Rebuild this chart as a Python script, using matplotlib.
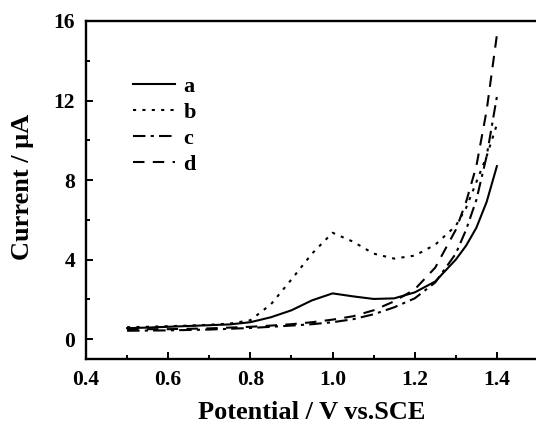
import matplotlib
matplotlib.use("Agg")
import matplotlib.pyplot as plt
from matplotlib.ticker import MultipleLocator

plt.rcParams['font.family'] = ['Liberation Serif', 'DejaVu Serif']
plt.rcParams['font.weight'] = 'bold'

# potential (V vs. SCE)
potential = [0.5, 0.55, 0.6, 0.65, 0.7, 0.75, 0.8, 0.85, 0.9, 0.95, 1.0,
             1.05, 1.1, 1.15, 1.2, 1.25, 1.3, 1.325, 1.35, 1.375, 1.4]

# current (uA) for each curve
cur_a = [0.55, 0.58, 0.62, 0.66, 0.70, 0.74, 0.85, 1.10, 1.45, 1.95, 2.30,
         2.15, 2.02, 2.05, 2.35, 2.90, 4.00, 4.70, 5.60, 6.90, 8.70]
cur_b = [0.60, 0.62, 0.65, 0.68, 0.72, 0.78, 0.95, 1.75, 3.00, 4.30, 5.35,
         4.90, 4.30, 4.05, 4.20, 4.75, 5.70, 6.60, 7.90, 9.20, 10.80]
cur_c = [0.42, 0.43, 0.44, 0.46, 0.48, 0.52, 0.56, 0.62, 0.68, 0.75, 0.85,
         1.00, 1.25, 1.60, 2.05, 2.85, 4.30, 5.50, 7.00, 9.20, 12.20]
cur_d = [0.50, 0.50, 0.50, 0.52, 0.54, 0.58, 0.62, 0.68, 0.75, 0.85, 0.98,
         1.15, 1.45, 1.90, 2.50, 3.60, 5.50, 6.90, 8.70, 11.50, 15.30]

labels = ['a', 'b', 'c', 'd']

fig = plt.figure(figsize=(5.36, 4.25), dpi=100)
ax = fig.add_axes([86 / 536, 66 / 425, 452 / 536, 338 / 425])

ax.plot(potential, cur_a, color='black', lw=1.5, linestyle='-', label=labels[0])
ax.plot(potential, cur_b, color='black', lw=1.5, linestyle=(0, (1.5, 3)), label=labels[1])
ax.plot(potential, cur_c, color='black', lw=1.5, linestyle=(0, (6, 2.5, 1.5, 2.5)), label=labels[2])
ax.plot(potential, cur_d, color='black', lw=1.5, linestyle=(0, (5.5, 4)), label=labels[3])

ax.set_xlim(0.4, 1.5)
ax.set_ylim(-1, 16)
ax.xaxis.set_major_locator(MultipleLocator(0.2))
ax.xaxis.set_minor_locator(MultipleLocator(0.1))
ax.yaxis.set_major_locator(MultipleLocator(4))
ax.yaxis.set_minor_locator(MultipleLocator(2))
ax.tick_params(which='both', direction='in', top=False, right=False,
               width=1.4, labelsize=15.5, pad=8)
ax.tick_params(which='major', length=5)
ax.tick_params(which='minor', length=3)
for lab in ax.get_xticklabels() + ax.get_yticklabels():
    lab.set_fontweight('bold')
for s in ax.spines.values():
    s.set_linewidth(1.7)

ax.set_xlabel('Potential / V vs.SCE', fontsize=19, fontweight='bold')
ax.set_ylabel('Current / μA', fontsize=19, fontweight='bold')
ax.xaxis.set_label_coords(0.5, -0.125)
ax.yaxis.set_label_coords(-0.115, 0.51)

leg = ax.legend(loc='upper left', bbox_to_anchor=(0.08, 0.87), frameon=False,
                fontsize=16, handlelength=1.9, handletextpad=0.35,
                labelspacing=0.25, borderpad=0)
for t in leg.get_texts():
    t.set_fontweight('bold')

fig.savefig('out.png', dpi=100)
